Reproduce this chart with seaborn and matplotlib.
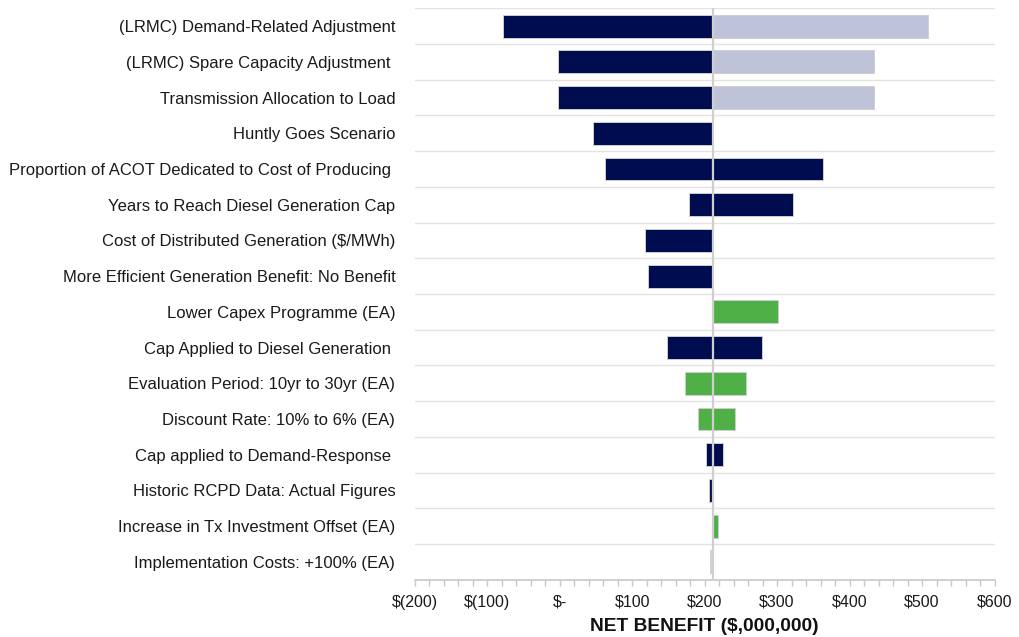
import numpy as np
import pandas as pd
import matplotlib
matplotlib.use("Agg")
import matplotlib.pyplot as plt
from matplotlib.ticker import FuncFormatter, MultipleLocator
import seaborn as sns

# Sensitivity drivers, top to bottom
drivers = [
    "(LRMC) Demand-Related Adjustment",
    "(LRMC) Spare Capacity Adjustment ",
    "Transmission Allocation to Load",
    "Huntly Goes Scenario",
    "Proportion of ACOT Dedicated to Cost of Producing ",
    "Years to Reach Diesel Generation Cap",
    "Cost of Distributed Generation ($/MWh)",
    "More Efficient Generation Benefit: No Benefit",
    "Lower Capex Programme (EA)",
    "Cap Applied to Diesel Generation ",
    "Evaluation Period: 10yr to 30yr (EA)",
    "Discount Rate: 10% to 6% (EA)",
    "Cap applied to Demand-Response ",
    "Historic RCPD Data: Actual Figures",
    "Increase in Tx Investment Offset (EA)",
    "Implementation Costs: +100% (EA)",
]

base_case = 212  # central net benefit, $m

# Net benefit under each sensitivity ($m); None = no movement on that side
low_values = [-78, -3, -3, 46, 63, 178, 118, 122, None, 148, 173, 191, 202, 206, None, 208]
high_values = [508, 433, 433, None, 364, 322, None, None, 301, 279, 257, 242, 226, None, 218, None]

low_groups = ["core", "core", "core", "core", "core", "core", "core", "core", None,
              "core", "ea", "ea", "core", "core", None, "minor"]
high_groups = ["alt", "alt", "alt", None, "core", "core", None, None, "ea",
               "core", "ea", "ea", "core", None, "ea", None]

palette = {"core": "#000c50", "alt": "#bfc3d9", "ea": "#4fb047", "minor": "#d3d3d3"}

tick_values = [-200, -100, 0, 100, 200, 300, 400, 500, 600]


def side_frame(values, groups):
    rows = [(d, v - base_case, g) for d, v, g in zip(drivers, values, groups) if v is not None]
    return pd.DataFrame(rows, columns=["driver", "delta", "group"])


low_df = side_frame(low_values, low_groups)
high_df = side_frame(high_values, high_groups)

sns.set_theme(style="white")
plt.rcParams["font.family"] = ["Liberation Sans", "DejaVu Sans"]

fig, ax = plt.subplots(figsize=(10.19, 6.37), dpi=100)
fig.subplots_adjust(left=0.407, right=0.976, top=0.987, bottom=0.09)

bar_kws = dict(orient="h", order=drivers, hue="group", palette=palette, dodge=False,
               saturation=1, legend=False, width=0.64, left=base_case,
               edgecolor="#cfcfcf", linewidth=0.7, ax=ax, zorder=3)
sns.barplot(data=low_df, x="delta", y="driver", **bar_kws)
sns.barplot(data=high_df, x="delta", y="driver", **bar_kws)

# Row separators
for y in np.arange(-0.5, len(drivers) - 0.5, 1.0):
    ax.axhline(y, color="#e3e3e3", linewidth=1.0, zorder=1)

# Base-case reference line
ax.axvline(base_case, color="#cfcfcf", linewidth=1.6, zorder=5)

ax.set_xlim(tick_values[0], tick_values[-1])
ax.set_ylim(len(drivers) - 0.5, -0.5)
ax.set_xticks(tick_values)
ax.xaxis.set_minor_locator(MultipleLocator(20))


def money(v, _pos):
    if v < 0:
        return f"$({abs(v):.0f})"
    if v == 0:
        return "$-"
    return f"${v:.0f}"


ax.xaxis.set_major_formatter(FuncFormatter(money))
ax.tick_params(axis="x", which="both", direction="out", length=4, width=1,
               color="#c8c8c8", labelsize=11.5, labelcolor="#1a1a1a", pad=7, bottom=True)
ax.tick_params(axis="y", length=0, labelsize=12, labelcolor="#1a1a1a", pad=14)

for side in ["top", "right", "left"]:
    ax.spines[side].set_visible(False)
ax.spines["bottom"].set_color("#c8c8c8")
ax.spines["bottom"].set_linewidth(1.2)

ax.set_ylabel("")
ax.set_xlabel("NET BENEFIT ($,000,000)", fontsize=13.8, fontweight="bold",
              color="#111111", labelpad=6)

fig.savefig("out.png", dpi=100)
